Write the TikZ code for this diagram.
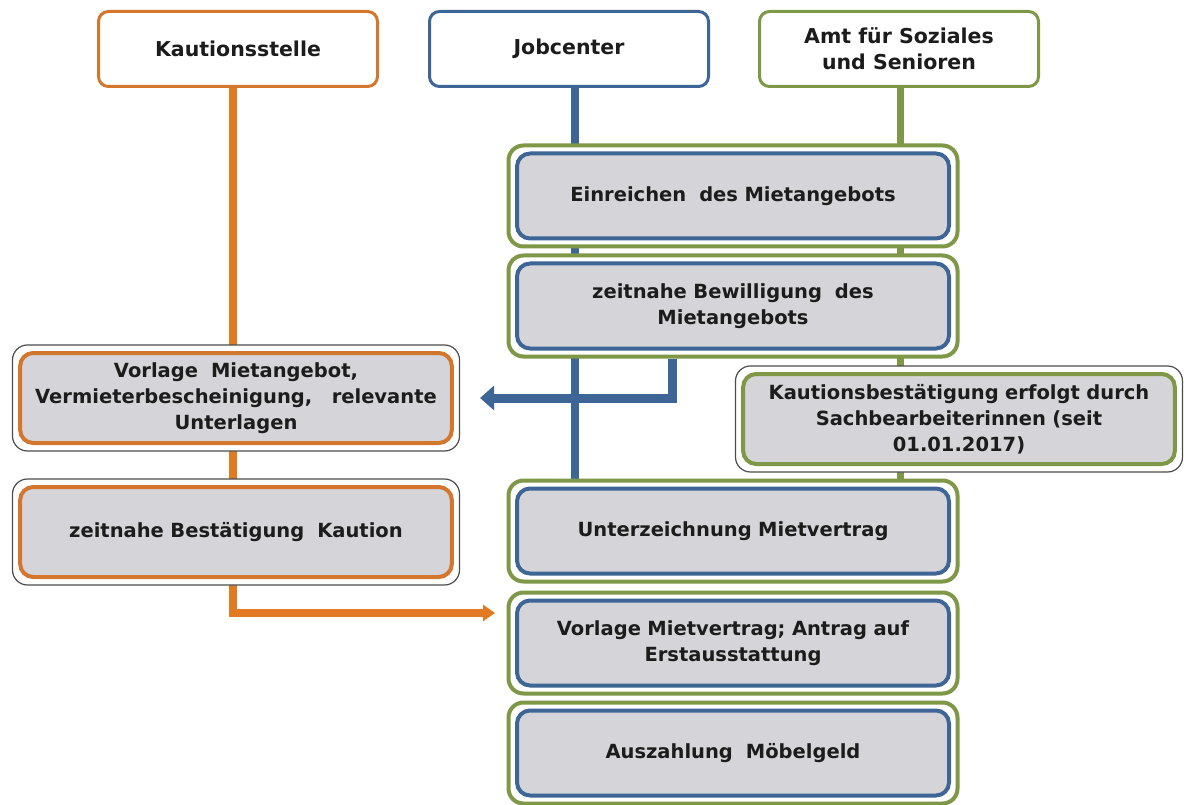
\documentclass[tikz,border=0pt]{standalone}
\usepackage{fontspec}
\setmainfont{DejaVu Sans}
\usetikzlibrary{arrows.meta,backgrounds}
\definecolor{org}{HTML}{E27A24}
\definecolor{orgb}{HTML}{D2772D}
\definecolor{blu}{HTML}{3D6696}
\definecolor{grn}{HTML}{7E9847}
\definecolor{boxgray}{HTML}{D5D5D9}
\definecolor{txt}{HTML}{1C1C1C}
\begin{document}
\begin{tikzpicture}[x=1pt,y=-1pt,
  every node/.style={font=\bfseries\fontsize{19.5}{26}\selectfont, text=txt, align=center},
  hdr/.style={draw=#1, line width=3pt, rounded corners=10pt, fill=white, minimum width=279pt, minimum height=75pt, font=\bfseries\fontsize{20.5}{26}\selectfont},
  outerG/.style={draw=grn, line width=4pt, rounded corners=15pt, fill=white, minimum width=449pt, minimum height=101pt},
  innerB/.style={draw=blu, line width=4pt, rounded corners=13pt, fill=boxgray, minimum width=432pt, minimum height=85pt, text width=425pt},
  outerK/.style={draw=gray!60!black, line width=1.2pt, rounded corners=15pt, fill=white, minimum width=447pt, minimum height=106pt},
  innerC/.style={draw=#1, line width=4pt, rounded corners=13pt, fill=boxgray, minimum width=431pt, minimum height=90pt, text width=425pt},
  vline/.style={draw=#1, line width=8pt},
  barrow/.style={draw=blu, line width=9pt, -{Triangle[width=24pt,length=14pt]}},
  oarrow/.style={draw=org, line width=8pt, -{Triangle[width=16pt,length=12pt]}}
]
\useasboundingbox (0,0) rectangle (1184,805);

% headers
\node[hdr=orgb] (hks) at (238,49) {Kautionsstelle};
\node[hdr=blu]  (hjc) at (569,49) {Jobcenter};
\node[hdr=grn]  (has) at (899,49) {Amt für Soziales\\und Senioren};

% middle column
\node[outerG] (b1o) at (733,196) {};
\node[innerB] (b1) at (733,196) {Einreichen\ \ des Mietangebots};
\node[outerG] (b2o) at (733,306) {};
\node[innerB] (b2) at (733,306) {zeitnahe Bewilligung\ \ des\\Mietangebots};
\node[outerG] (b3o) at (733,531) {};
\node[innerB] (b3) at (733,531) {Unterzeichnung Mietvertrag};
\node[outerG] (b4o) at (733,643) {};
\node[innerB] (b4) at (733,643) {Vorlage Mietvertrag; Antrag auf\\Erstausstattung};
\node[outerG] (b5o) at (733,753) {};
\node[innerB] (b5) at (733,753) {Auszahlung\ \ Möbelgeld};

% left column
\node[outerK] (l1o) at (236,398) {};
\node[innerC=orgb] (l1) at (236,398) {Vorlage\ \ Mietangebot,\\Vermieterbescheinigung,\ \ \ relevante\\Unterlagen};
\node[outerK] (l2o) at (236,532) {};
\node[innerC=orgb] (l2) at (236,532) {zeitnahe Bestätigung\ \ Kaution};

% right box
\node[outerK] (r1o) at (959,419) {};
\node[innerC=grn] (r1) at (959,419) {Kautionsbestätigung erfolgt durch\\Sachbearbeiterinnen (seit\\01.01.2017)};

\coordinate (otip) at (495,613);

\begin{scope}[on background layer]
  \fill[white] (0,0) rectangle (1184,805);
  \draw[vline=org] (hks.south -| 233,0) -- (otip -| 233,0);
  \draw[vline=blu] (hjc.south -| 575,0) -- (b3o.north -| 575,0);
  \draw[vline=grn, line width=7pt] (has.south -| 900,0) -- (b3o.north -| 900,0);
\end{scope}

\draw[barrow] (b2o.south -| 672,0) |- ([xshift=20pt]l1o.east);
\draw[oarrow] (l2o.south -| 233,0) |- (otip);
\end{tikzpicture}
\end{document}
